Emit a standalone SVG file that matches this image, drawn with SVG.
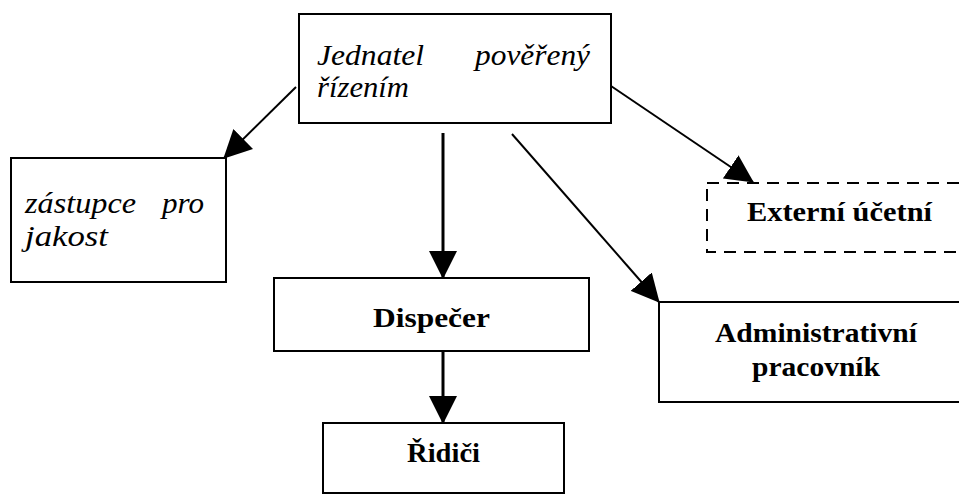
<svg xmlns="http://www.w3.org/2000/svg" width="959" height="495" viewBox="0 0 959 495">
<defs>
<style>
.box{fill:#fff;stroke:#000;stroke-width:2}
.dash{fill:#fff;stroke:#000;stroke-width:2;stroke-dasharray:12 8}
.it{font-family:"Liberation Serif","Times New Roman",serif;font-style:italic;font-size:30px;fill:#000}
.bd{font-family:"Liberation Serif","Times New Roman",serif;font-weight:bold;font-size:28px;fill:#000}
.thin{stroke:#000;stroke-width:2;fill:none}
.thick{stroke:#000;stroke-width:3;fill:none}
</style>
<marker id="ah" viewBox="0 0 28 28" refX="27" refY="14" markerWidth="28" markerHeight="28" markerUnits="userSpaceOnUse" orient="auto">
<path d="M0,0 L28,14 L0,28 z" fill="#000"/>
</marker>
</defs>
<rect width="959" height="495" fill="#fff"/>
<g id="connectors">
<line class="thin" x1="296" y1="87" x2="224" y2="158" marker-end="url(#ah)"/>
<line class="thin" x1="611" y1="86" x2="753" y2="182" marker-end="url(#ah)"/>
<line class="thin" x1="512" y1="134" x2="659" y2="302" marker-end="url(#ah)"/>
<line class="thick" x1="443" y1="133" x2="443" y2="278" marker-end="url(#ah)"/>
<line class="thick" x1="443" y1="351" x2="443" y2="423" marker-end="url(#ah)"/>
</g>
<g id="jednatel">
<rect class="box" x="299" y="14" width="312" height="109"/>
<text class="it" x="317" y="65" textLength="107" lengthAdjust="spacingAndGlyphs">Jednatel</text>
<text class="it" x="475" y="65" textLength="115" lengthAdjust="spacingAndGlyphs">pověřený</text>
<text class="it" x="317" y="97" textLength="92" lengthAdjust="spacingAndGlyphs">řízením</text>
</g>
<g id="zastupce">
<rect class="box" x="11" y="158" width="215" height="124"/>
<text class="it" x="25" y="213" textLength="111" lengthAdjust="spacingAndGlyphs">zástupce</text>
<text class="it" x="162" y="213" textLength="42" lengthAdjust="spacingAndGlyphs">pro</text>
<text class="it" x="25" y="246" textLength="83" lengthAdjust="spacingAndGlyphs">jakost</text>
</g>
<g id="externi">
<rect class="dash" x="707" y="183" width="270" height="69"/>
<text class="bd" x="747" y="221" textLength="185" lengthAdjust="spacingAndGlyphs">Externí účetní</text>
</g>
<g id="dispecer">
<rect class="box" x="274" y="278" width="315" height="73"/>
<text class="bd" x="373" y="327" textLength="117" lengthAdjust="spacingAndGlyphs">Dispečer</text>
</g>
<g id="administrativni">
<rect class="box" x="659" y="302" width="320" height="100"/>
<text class="bd" x="715" y="342" textLength="202" lengthAdjust="spacingAndGlyphs">Administrativní</text>
<text class="bd" x="752" y="376" textLength="128" lengthAdjust="spacingAndGlyphs">pracovník</text>
</g>
<g id="ridici">
<rect class="box" x="323" y="423" width="241" height="70"/>
<text class="bd" x="407" y="462" textLength="73" lengthAdjust="spacingAndGlyphs">Řidiči</text>
</g>
</svg>
